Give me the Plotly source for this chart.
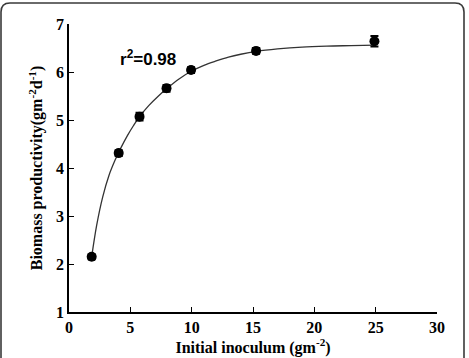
import plotly.graph_objects as go

# Measured data
inoculum = [1.85, 4.05, 5.75, 7.95, 9.95, 15.25, 24.9]
productivity = [2.15, 4.31, 5.07, 5.66, 6.04, 6.44, 6.64]
errors = [0.05, 0.06, 0.08, 0.07, 0.06, 0.06, 0.11]

# Fitted curve
fit_x = [1.85, 2.25, 2.75, 3.25, 3.75, 4.25, 4.75, 5.25, 5.75, 6.5, 7.25, 8, 9, 10,
         11, 12, 13, 14, 15.3, 17, 19, 21, 23, 25]
fit_y = [2.15, 2.80, 3.40, 3.84, 4.16, 4.43, 4.67, 4.88, 5.07, 5.30, 5.49, 5.66, 5.86, 6.02,
         6.14, 6.23, 6.31, 6.37, 6.43, 6.48, 6.52, 6.54, 6.55, 6.56]

x_ticks = [0, 5, 10, 15, 20, 25, 30]
y_ticks = [1, 2, 3, 4, 5, 6, 7]

W, H = 469, 358
ML, MR, MT, MB = 69, 32, 24, 46

fig = go.Figure()
fig.add_trace(go.Scatter(x=fit_x, y=fit_y, mode="lines", line=dict(color="#333333", width=1.3, shape="spline"),
                         hoverinfo="skip", showlegend=False))
fig.add_trace(go.Scatter(x=inoculum, y=productivity, mode="markers",
                         marker=dict(color="black", size=10, symbol="circle"),
                         error_y=dict(type="data", array=errors, color="black", thickness=2, width=4),
                         showlegend=False))

serif = "Liberation Serif, Times New Roman, serif"
fig.update_layout(
    width=W, height=H,
    margin=dict(l=ML, r=MR, t=MT, b=MB),
    paper_bgcolor="white", plot_bgcolor="white",
    font=dict(family=serif, color="black"),
    xaxis=dict(range=[0, 30], tickvals=x_ticks, ticks="inside", ticklen=5, tickwidth=1.2, tickcolor="black",
               showline=True, linecolor="black", linewidth=1.5, showgrid=False, zeroline=False, automargin=False,
               tickfont=dict(family=serif, size=16, color="black", weight="bold"),
               title=dict(text="<b>Initial inoculum (gm<sup>-2</sup>)</b>", font=dict(family=serif, size=16), standoff=3)),
    yaxis=dict(range=[1, 7], tickvals=y_ticks, ticks="inside", ticklen=5, tickwidth=1.2, tickcolor="black",
               showline=True, linecolor="black", linewidth=1.5, showgrid=False, zeroline=False, automargin=False,
               tickfont=dict(family=serif, size=16, color="black", weight="bold"),
               title=dict(text="<b>Biomass productivity(gm<sup>-2</sup>d<sup>-1</sup>)</b>", font=dict(family=serif, size=16), standoff=9)),
    annotations=[dict(x=6.4, y=6.3, xref="x", yref="y", text="<b>r<sup>2</sup>=0.98</b>", showarrow=False,
                      font=dict(family="Liberation Sans, Arial, sans-serif", size=17, color="black"),
                      xanchor="center", yanchor="middle")],
)

# Rounded outer frame (in paper coordinates)
pw, ph = W - ML - MR, H - MT - MB
def px(x): return (x - ML) / pw
def py(y): return (H - MB - y) / ph
L, T, R, B, r = 1, 3, 464, 370, 9
path = (f"M {px(L)},{py(B)} L {px(L)},{py(T + r)} Q {px(L)},{py(T)} {px(L + r)},{py(T)} "
        f"L {px(R - r)},{py(T)} Q {px(R)},{py(T)} {px(R)},{py(T + r)} L {px(R)},{py(B)}")
fig.add_shape(type="path", path=path, xref="paper", yref="paper", line=dict(color="#3a3a3a", width=1.6), layer="above")

fig.write_html("out.html")
